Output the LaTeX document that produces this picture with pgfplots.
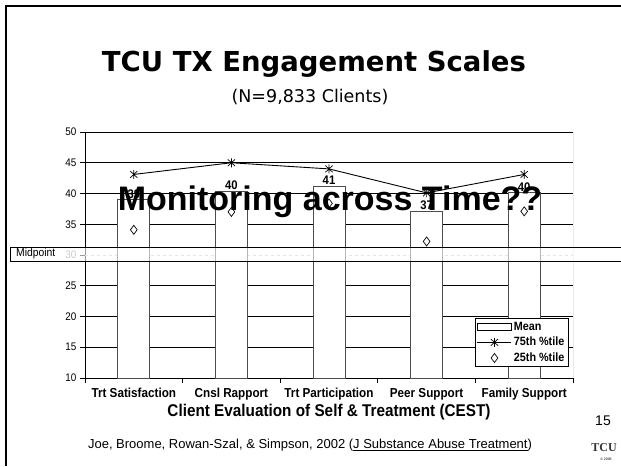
\documentclass[border=0pt]{standalone}
\usepackage{fontspec}
\setmainfont{Liberation Sans}
\newfontfamily\narrow[FakeStretch=0.9]{Liberation Sans}
\newfontfamily\tahoma{DejaVu Sans}
\newfontfamily\logofont{Liberation Serif}
\usepackage{pgfplots}
\pgfplotsset{compat=1.18}
\pgfdeclareplotmark{xstar}{%
  \pgfpathmoveto{\pgfqpoint{0pt}{\pgfplotmarksize}}%
  \pgfpathlineto{\pgfqpoint{0pt}{-\pgfplotmarksize}}%
  \pgfpathmoveto{\pgfqpoint{-.8\pgfplotmarksize}{.75\pgfplotmarksize}}%
  \pgfpathlineto{\pgfqpoint{.8\pgfplotmarksize}{-.75\pgfplotmarksize}}%
  \pgfpathmoveto{\pgfqpoint{-.8\pgfplotmarksize}{-.75\pgfplotmarksize}}%
  \pgfpathlineto{\pgfqpoint{.8\pgfplotmarksize}{.75\pgfplotmarksize}}%
  \pgfusepathqstroke}
\begin{document}
\begin{tikzpicture}[x=1pt,y=1pt]
\path[use as bounding box] (0,0) rectangle (621,466);
\draw[line width=2.5pt] (6,0) -- (6,460) -- (621,460);
\node[anchor=base] at (314,394) {\resizebox{424pt}{!}{\tahoma\bfseries TCU TX Engagement Scales}};
\node[anchor=base] at (310,363) {\tahoma\fontsize{17.5}{20}\selectfont (N=9,833 Clients)};
\begin{axis}[
  at={(85pt,88pt)}, anchor=south west, scale only axis, width=488pt, height=246pt,
  xmin=-0.5, xmax=4.5, ymin=10, ymax=50,
  axis x line*=bottom, axis y line*=left,
  axis line style={-, black, line width=0.8pt},
  ytick={10,15,20,25,35,40,45,50},
  extra y ticks={30},
  extra y tick style={grid style={gray!50, dashed, line width=0.8pt}, yticklabel style={gray}},
  ymajorgrids, grid style={black, line width=0.8pt},
  xtick={0,1,2,3,4},
  xticklabels={Trt Satisfaction, Cnsl Rapport, Trt Participation, Peer Support, Family Support},
  major x tick style={draw=none},
  minor xtick={-0.5,0.5,1.5,2.5,3.5,4.5},
  tick align=outside, major tick length=5pt, minor tick length=5pt,
  tick style={black, line width=0.8pt},
  /pgf/number format/assume math mode=true,
  yticklabel style={font=\narrow\fontsize{11}{12}\selectfont},
  xticklabel style={font=\narrow\bfseries\fontsize{13}{14}\selectfont, yshift=-2pt},
  legend style={at={(0.99,0.045)}, anchor=south east, draw=black, line width=0.6pt,
    font=\narrow\bfseries\fontsize{12}{12}\selectfont, inner sep=1.5pt, row sep=1.5pt,
    cells={anchor=west}},
]
\addplot[ybar, bar width=32pt, fill=white, draw=gray!60!black, line width=0.8pt,
  nodes near coords={\pgfmathprintnumber[fixed,precision=0]{\pgfplotspointmeta}},
  nodes near coords style={font=\narrow\bfseries\fontsize{12.5}{13}\selectfont, anchor=south, inner sep=1pt, black},
  legend image code/.code={\draw[black, fill=white, line width=0.6pt] (0pt,-3.5pt) rectangle (34pt,3.5pt);}]
  coordinates {(0,39) (1,40.4) (2,41.2) (3,37.1) (4,40.1)};
\addlegendentry{Mean}
\addplot[black, line width=0.9pt, mark=xstar, mark size=4.5pt, mark options={line width=0.7pt},
  legend image code/.code={\draw[black, line width=0.9pt] (0pt,0pt) -- (34pt,0pt);
    \draw[black, line width=0.7pt] plot[mark=xstar, mark size=4.5pt] coordinates {(17pt,0pt)};}]
  coordinates {(0,43.1) (1,45) (2,44) (3,40.1) (4,43.1)};
\addlegendentry{75th \%tile}
\addplot[only marks, black, mark=diamond, mark size=4.5pt, mark options={line width=0.7pt},
  legend image code/.code={\draw[black, line width=0.7pt] plot[only marks, mark=diamond, mark size=4.5pt] coordinates {(17pt,0pt)};}]
  coordinates {(0,34.1) (1,37) (2,38.4) (3,32.2) (4,37.1)};
\addlegendentry{25th \%tile}
\draw[gray!60!black, line width=0.8pt] (rel axis cs:1,0) -- (rel axis cs:1,1);
\end{axis}
% midpoint box
\fill[white, opacity=0.6] (10,205) rectangle (621,219);
\draw[line width=0.6pt] (10,205) rectangle (623,219);
\node[anchor=west, font=\narrow\fontsize{11.5}{12}\selectfont, inner sep=0pt] at (16,212) {Midpoint};
% overlay text
\node[anchor=base, font=\bfseries\fontsize{34}{36}\selectfont, inner sep=0pt] at (330,255) {Monitoring across Time??};
% axis title
\node[anchor=center, font=\narrow\bfseries\fontsize{17}{19}\selectfont] at (329,54) {Client Evaluation of Self \& Treatment (CEST)};
% citation
\node[anchor=center, font=\fontsize{13}{15}\selectfont] at (310,21) {Joe, Broome, Rowan-Szal, \& Simpson, 2002 (\underline{J Substance Abuse Treatment})};
% page number and logo
\node[anchor=center, font=\fontsize{14}{16}\selectfont] at (603,45) {15};
\node[anchor=center, font=\logofont\bfseries\fontsize{12}{13}\selectfont, text=black!80] at (604,18) {TCU};
\node[anchor=center, font=\fontsize{3.5}{4}\selectfont] at (606,7) {\copyright\ 2008};
\end{tikzpicture}
\end{document}
